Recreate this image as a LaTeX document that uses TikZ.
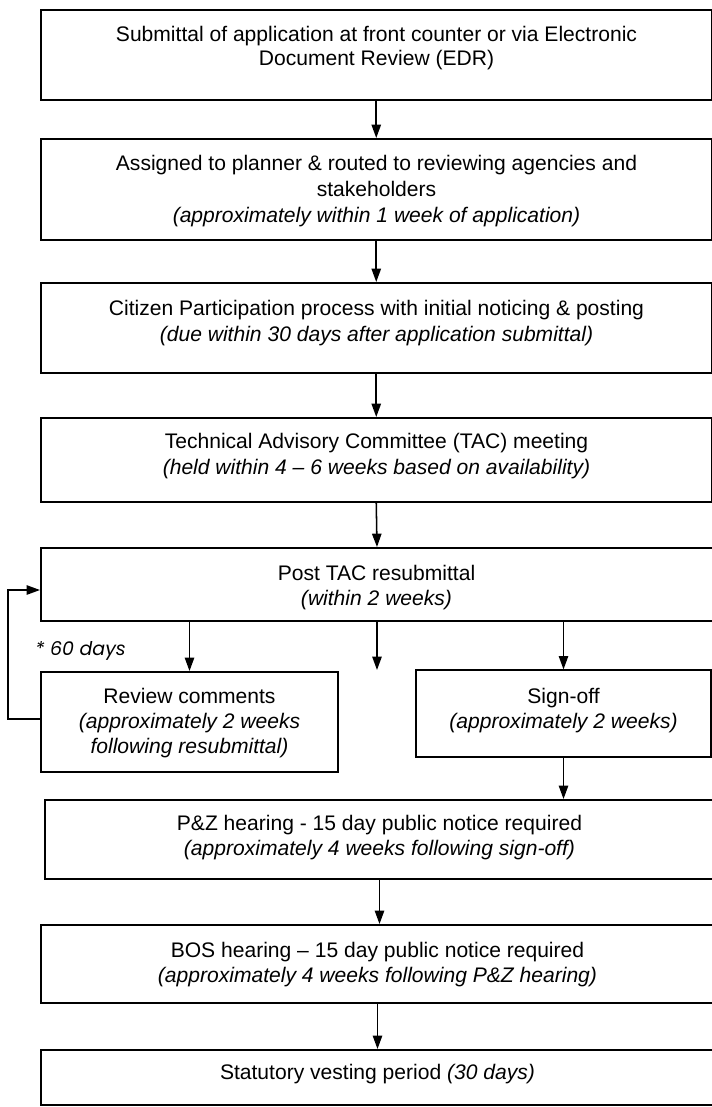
\documentclass[tikz,border=0pt]{standalone}
\usepackage{fontspec}
\setmainfont{Liberation Sans}
\newfontfamily\geofont{Poppins}
\usetikzlibrary{arrows.meta,fit}
\begin{document}
\begin{tikzpicture}[x=0.75pt,y=-0.75pt,
  box/.style={draw, line width=1.5pt, inner sep=0pt},
  txt/.style={anchor=base, inner sep=0pt, font=\fontsize{15.8}{18}\selectfont},
  arr/.style={line width=1.15pt, line join=miter, -{Triangle[length=10pt,width=7pt]}}]
\fill[white] (0,0) rectangle (712,1107);
\useasboundingbox (0,0) rectangle (712,1107);
\clip (0,0) rectangle (712,1107);

% corner coordinates
\coordinate (b1nw) at (41,10);   \coordinate (b1se) at (711.5,100);
\coordinate (b2nw) at (41,139);  \coordinate (b2se) at (711.5,240);
\coordinate (b3nw) at (41,283);  \coordinate (b3se) at (711.5,373);
\coordinate (b4nw) at (41,418);  \coordinate (b4se) at (711.5,502);
\coordinate (b5nw) at (41,548);  \coordinate (b5se) at (713,621);
\coordinate (rvnw) at (41,672);  \coordinate (rvse) at (338,772);
\coordinate (sgnw) at (416,670); \coordinate (sgse) at (711,757);
\coordinate (pznw) at (45,800);  \coordinate (pzse) at (714,879);
\coordinate (bsnw) at (41,925);  \coordinate (bsse) at (714,1003);
\coordinate (lsnw) at (41,1050); \coordinate (lsse) at (714,1105);

% boxes
\node[box, fit=(b1nw)(b1se)] (b1) {};
\node[box, fit=(b2nw)(b2se)] (b2) {};
\node[box, fit=(b3nw)(b3se)] (b3) {};
\node[box, fit=(b4nw)(b4se)] (b4) {};
\node[box, fit=(b5nw)(b5se)] (b5) {};
\node[box, fit=(rvnw)(rvse)] (rev) {};
\node[box, line width=0.9pt, fit=(sgnw)(sgse)] (sign) {};
\node[box, fit=(pznw)(pzse)] (pz) {};
\node[box, fit=(bsnw)(bsse)] (bos) {};
\node[box, fit=(lsnw)(lsse)] (last) {};

% texts
\node[txt] (t1a) at (376.5,41) {Submittal of application at front counter or via Electronic};
\node[txt] (t1b) at (376.5,65) {Document Review (EDR)};
\node[txt] (t2a) at (376.5,170) {Assigned to planner \& routed to reviewing agencies and};
\node[txt] (t2b) at (376.5,196) {stakeholders};
\node[txt] (t2c) at (376.5,222) {\itshape (approximately within 1 week of application)};
\node[txt] (t3a) at (376.5,315) {Citizen Participation process with initial noticing \& posting};
\node[txt] (t3b) at (376.5,341) {\itshape (due within 30 days after application submittal)};
\node[txt] (t4a) at (376.5,448) {Technical Advisory Committee (TAC) meeting};
\node[txt] (t4b) at (376.5,474) {\itshape (held within 4 – 6 weeks based on availability)};
\node[txt] (t5a) at (376.5,580) {Post TAC resubmittal};
\node[txt] (t5b) at (376.5,605) {\itshape (within 2 weeks)};
\node[txt] (tra) at (189.5,703) {Review comments};
\node[txt] (trb) at (189.5,728) {\itshape (approximately 2 weeks};
\node[txt] (trc) at (189.5,753) {\itshape following resubmittal)};
\node[txt] (tsa) at (563.5,703) {Sign-off};
\node[txt] (tsb) at (563.5,728) {\itshape (approximately 2 weeks)};
\node[txt] (tpa) at (379.5,830) {P\&Z hearing - 15 day public notice required};
\node[txt] (tpb) at (379.5,855) {\itshape (approximately 4 weeks following sign-off)};
\node[txt] (tba) at (377.5,957) {BOS hearing – 15 day public notice required};
\node[txt] (tbb) at (377.5,982) {\itshape (approximately 4 weeks following P\&Z hearing)};
\node[txt] (tla) at (377.5,1079) {Statutory vesting period \textit{(30 days)}};
\node[anchor=base west, inner sep=0pt, font=\geofont\itshape\fontsize{14.2}{17}\selectfont] (sixty) at (35,655) {* 60 days};

% connectors
\draw[arr] (b1.south) -- (b2.north);
\draw[arr] (b2.south) -- (b3.north);
\draw[arr] (b3.south) -- (b4.north);
\draw[arr] (b4.south) -- (b5.north);
\draw[arr] (b5.south -| rev.north) -- (rev.north);
\coordinate (midend) at (377,670);
\draw[arr] (b5.south -| midend) -- (midend);
\draw[arr] (b5.south -| sign.north) -- (sign.north);
\draw[arr] (sign.south) -- (sign.south |- pz.north);
\draw[arr] (pz.south) -- (pz.south |- bos.north);
\draw[arr] (bos.south) -- (bos.south |- last.north);
\coordinate (lb) at (8,719);
\coordinate (lt) at (8,590);
\draw[arr] (rev.west |- lb) -- (lb) -- (lt) -- (b5.west |- lt);
\end{tikzpicture}
\end{document}
